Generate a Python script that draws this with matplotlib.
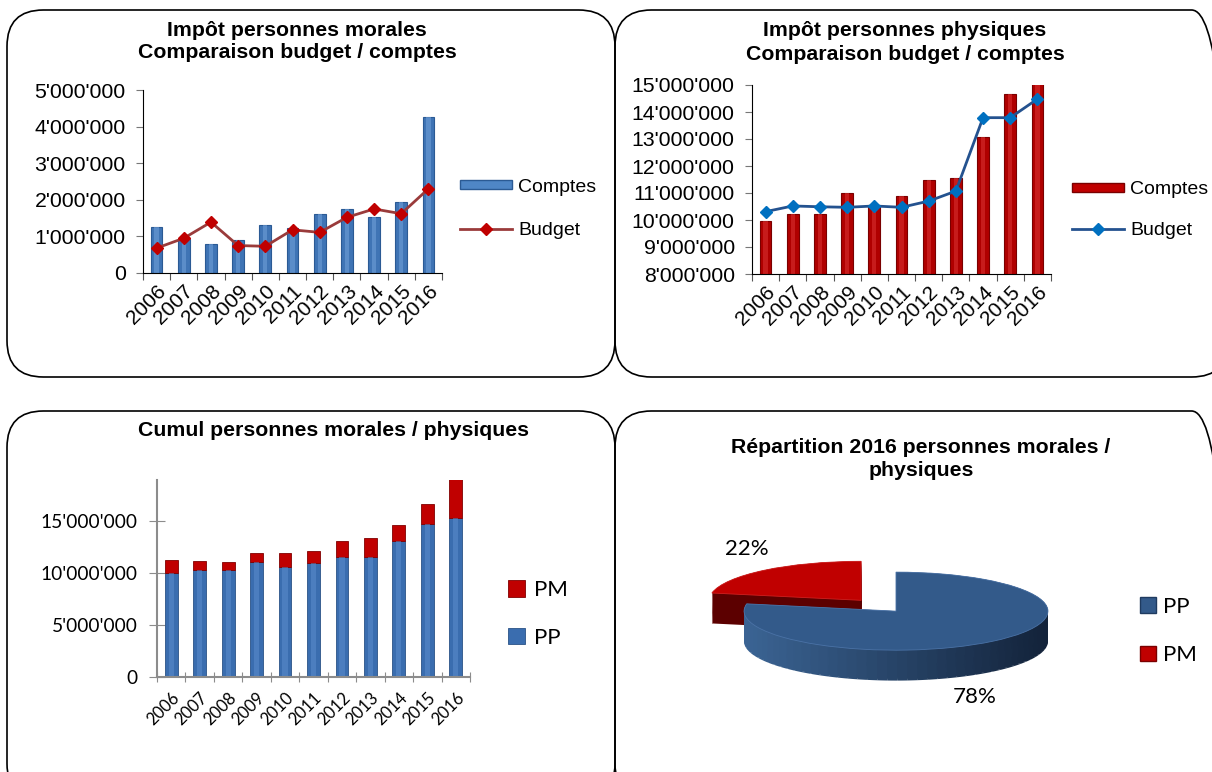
import numpy as np
import matplotlib
matplotlib.use("Agg")
from matplotlib import pyplot as plt
from matplotlib.patches import FancyBboxPatch, Wedge, Patch
from matplotlib.lines import Line2D
from matplotlib.colors import to_rgb

years = ['2006', '2007', '2008', '2009', '2010', '2011', '2012', '2013', '2014', '2015', '2016']

# personnes morales (PM)
pm_comptes = [1270000, 930000, 800000, 910000, 1300000, 1230000, 1610000, 1750000, 1530000, 1930000, 4270000]
pm_budget = [680000, 950000, 1390000, 750000, 730000, 1180000, 1110000, 1520000, 1750000, 1620000, 2300000]

# personnes physiques (PP)
pp_comptes = [9980000, 10220000, 10220000, 10990000, 10550000, 10890000, 11480000, 11540000, 13090000, 14650000, 15250000]
pp_budget = [10310000, 10520000, 10490000, 10470000, 10520000, 10470000, 10700000, 11070000, 13790000, 13790000, 14480000]

pie_labels = ['PP', 'PM']
pie_values = [78, 22]

W, H = 1212, 772
ARIAL = 'Liberation Sans'
CALIBRI = 'Lato'
TITLE_FS = 15.3


def fmt(v, pos=None):
    return f"{int(v):,}".replace(",", "'")


def fx(px):
    return px / W


def fy(py):
    return 1 - py / H


def axes_px(fig, x0, y0, x1, y1):
    a = fig.add_axes([fx(x0), fy(y1), (x1 - x0) / W, (y1 - y0) / H])
    a.patch.set_alpha(0)
    return a


fig = plt.figure(figsize=(W / 100, H / 100), dpi=100)

# rounded panels
for (x0, y0, x1, y1) in [(7, 10, 615, 377), (615, 10, 1228, 377),
                         (7, 411, 615, 800), (615, 411, 1228, 800)]:
    box = FancyBboxPatch((fx(x0), fy(y1)), (x1 - x0) / W, (y1 - y0) / H,
                         boxstyle="round,pad=0,rounding_size=0.03",
                         transform=fig.transFigure, facecolor='none',
                         edgecolor='black', lw=1.2, zorder=-1,
                         mutation_aspect=W / H)
    fig.patches.append(box)

x = np.arange(len(years))


def style_top(ax, ymin, ymax, step):
    ax.set_xlim(-0.5, len(years) - 0.5)
    ax.set_ylim(ymin, ymax)
    ax.set_yticks(np.arange(ymin, ymax + 1, step))
    ax.yaxis.set_major_formatter(plt.FuncFormatter(fmt))
    ax.set_xticks(np.arange(-0.5, len(years) + 0.5, 1))
    ax.set_xticklabels([])
    ax.set_xticks(x, minor=True)
    ax.set_xticklabels(years, minor=True, rotation=45, ha='right', va='top',
                       rotation_mode='anchor', fontsize=15, family=ARIAL)
    ax.tick_params(axis='x', which='minor', length=0, pad=6)
    ax.tick_params(axis='x', which='major', length=5, direction='out', color='#555555')
    ax.tick_params(axis='y', length=5, direction='out', color='#777777', labelsize=15.3,
                   pad=7.5)
    for lab in ax.get_yticklabels():
        lab.set_family(ARIAL)
    for s in ['top', 'right']:
        ax.spines[s].set_visible(False)
    ax.spines['left'].set_color('black')
    ax.spines['bottom'].set_color('black')


# ---- top left: PM
ax1 = axes_px(fig, 143, 90, 442, 273)
ax1.bar(x, pm_comptes, width=0.43, color='#3F74B5', edgecolor='#2B5A94', lw=0.8, zorder=2)
ax1.bar(x, pm_comptes, width=0.16, color='#6E9FD8', lw=0, zorder=2.1, alpha=0.6)
ax1.plot(x, pm_budget, color='#9A3B3B', lw=2, marker='D', ms=6.5, mfc='#C00000',
         mec='#C00000', zorder=3)
style_top(ax1, 0, 5000000, 1000000)
fig.text(fx(297), fy(30), 'Impôt personnes morales', ha='center', va='center',
         fontsize=TITLE_FS, weight='bold', family=ARIAL)
fig.text(fx(297), fy(53), 'Comparaison budget / comptes', ha='center', va='center',
         fontsize=TITLE_FS, weight='bold', family=ARIAL)
h1 = [Patch(facecolor='#4F86C6', edgecolor='#2B5A94'),
      Line2D([0], [0], color='#9A3B3B', lw=2, marker='D', ms=6, mfc='#C00000', mec='#C00000')]
fig.legend(h1, ['Comptes', 'Budget'], loc='center left', bbox_to_anchor=(fx(450), fy(209)),
           frameon=False, prop={'family': ARIAL, 'size': 14}, handlelength=2.7,
           handleheight=0.35, handletextpad=0.3, labelspacing=1.35, borderpad=0)

# ---- top right: PP
ax2 = axes_px(fig, 752, 85, 1051, 274)
ax2.bar(x, pp_comptes, width=0.43, color='#B00000', edgecolor='#7A0000', lw=0.8, zorder=2)
ax2.bar(x, pp_comptes, width=0.16, color='#D83030', lw=0, zorder=2.1, alpha=0.6)
ax2.plot(x, pp_budget, color='#24528F', lw=2, marker='D', ms=6.5, mfc='#0070C0',
         mec='#0070C0', zorder=3)
style_top(ax2, 8000000, 15000000, 1000000)
fig.text(fx(905), fy(30), 'Impôt personnes physiques', ha='center', va='center',
         fontsize=TITLE_FS, weight='bold', family=ARIAL)
fig.text(fx(905), fy(54), 'Comparaison budget / comptes', ha='center', va='center',
         fontsize=TITLE_FS, weight='bold', family=ARIAL)
h2 = [Patch(facecolor='#C00000', edgecolor='#7A0000'),
      Line2D([0], [0], color='#24528F', lw=2, marker='D', ms=6, mfc='#0070C0', mec='#0070C0')]
fig.legend(h2, ['Comptes', 'Budget'], loc='center left', bbox_to_anchor=(fx(1062), fy(210)),
           frameon=False, prop={'family': ARIAL, 'size': 14}, handlelength=2.7,
           handleheight=0.35, handletextpad=0.3, labelspacing=1.2, borderpad=0)

# ---- bottom left: cumul
ax3 = axes_px(fig, 157, 480, 470, 677)
b_pp = ax3.bar(x, pp_comptes, width=0.45, color='#3A6DAF', edgecolor='#2A5287', lw=0.6, zorder=2)
ax3.bar(x, pp_comptes, width=0.18, color='#5E8FD0', lw=0, zorder=2.1, alpha=0.5)
b_pm = ax3.bar(x, pm_comptes, width=0.45, bottom=pp_comptes, color='#C00000',
               edgecolor='#800000', lw=0.6, zorder=2)
ax3.set_xlim(-0.5, len(years) - 0.5)
ax3.set_ylim(0, 18900000)
ax3.set_yticks([0, 5000000, 10000000, 15000000])
ax3.yaxis.set_major_formatter(plt.FuncFormatter(fmt))
ax3.set_xticks(np.arange(-0.5, len(years) + 0.5, 1))
ax3.set_xticklabels([])
ax3.set_xticks(x, minor=True)
ax3.set_xticklabels(years, minor=True, rotation=45, ha='right', va='top',
                    rotation_mode='anchor', fontsize=12, family=CALIBRI)
ax3.tick_params(axis='x', which='minor', length=0, pad=9)
ax3.tick_params(axis='x', which='major', length=7, direction='inout', color='#8C8C8C')
ax3.tick_params(axis='y', length=11.5, direction='inout', color='#8C8C8C', labelsize=13.8, pad=8)
for lab in ax3.get_yticklabels():
    lab.set_family(CALIBRI)
for s in ['top', 'right']:
    ax3.spines[s].set_visible(False)
ax3.spines['left'].set_color('#8C8C8C')
ax3.spines['bottom'].set_color('#8C8C8C')
ax3.spines['left'].set_linewidth(1.5)
ax3.spines['bottom'].set_linewidth(1.5)
fig.text(fx(333), fy(430), 'Cumul personnes morales / physiques', ha='center', va='center',
         fontsize=TITLE_FS, weight='bold', family=ARIAL)
fig.legend([b_pm[0], b_pp[0]], ['PM', 'PP'], loc='center left', bbox_to_anchor=(fx(497), fy(614)),
           frameon=False, prop={'family': CALIBRI, 'size': 16}, handlelength=0.75,
           handleheight=0.75, handletextpad=0.4, labelspacing=1.25, borderpad=0)

# ---- bottom right: 3D-like pie
ax4 = axes_px(fig, 700, 530, 1092, 720)
top_cols = ['#335A8A', '#C00000']
side_cols = ['#22406A', '#5C0000']
side_light = np.array(to_rgb('#3B6494'))
side_dark = np.array(to_rgb('#13233A'))
explode = [0, 0.36]
thick = 0.78
nlayer = 30
wt, _ = ax4.pie(pie_values, startangle=90, counterclock=False, explode=explode,
                colors=top_cols, center=(0, 0), wedgeprops={'lw': 0.6, 'edgecolor': '#4A72A6'})
wt[0].set_zorder(4)
wt[1].set_zorder(2)
wt[1].set_edgecolor('#D02020')
# side walls: stacked copies below each top face
for k in range(nlayer):
    off = thick * (1 - k / (nlayer - 1))
    # red slice side
    w = wt[1]
    ax4.add_patch(Wedge((w.center[0], w.center[1] - off), w.r, w.theta1, w.theta2,
                        color=side_cols[1], lw=0, zorder=1))
    # blue slice side, shaded from left (light) to right (dark)
    w = wt[0]
    angs = np.linspace(w.theta1, w.theta2, 73)
    for a0, a1 in zip(angs[:-1], angs[1:]):
        t = (np.cos(np.radians((a0 + a1) / 2)) + 1) / 2
        c = side_light * (1 - t) + side_dark * t
        ax4.add_patch(Wedge((w.center[0], w.center[1] - off), w.r, a0, a1,
                            color=c, lw=0, zorder=3))
ax4.set_aspect('auto')
ax4.set_xlim(-1.29, 1.29)
ax4.set_ylim(-2.79, 2.08)
ax4.axis('off')
tot = sum(pie_values)
fig.text(fx(747), fy(549), f"{pie_values[1] / tot * 100:.0f}%", ha='center', va='center',
         fontsize=16, family=CALIBRI)
fig.text(fx(975), fy(697), f"{pie_values[0] / tot * 100:.0f}%", ha='center', va='center',
         fontsize=16, family=CALIBRI)
fig.text(fx(921), fy(448), 'Répartition 2016 personnes morales /', ha='center', va='center',
         fontsize=TITLE_FS, weight='bold', family=ARIAL)
fig.text(fx(921), fy(471), 'physiques', ha='center', va='center',
         fontsize=TITLE_FS, weight='bold', family=ARIAL)
hp = [Patch(facecolor=top_cols[0], edgecolor='#1F3B60'), Patch(facecolor=top_cols[1], edgecolor='#7A0000')]
fig.legend(hp, pie_labels, loc='center left', bbox_to_anchor=(fx(1129), fy(631)),
           frameon=False, prop={'family': CALIBRI, 'size': 16}, handlelength=0.7,
           handleheight=0.7, handletextpad=0.35, labelspacing=1.3, borderpad=0)

fig.savefig('out.png', dpi=100)
